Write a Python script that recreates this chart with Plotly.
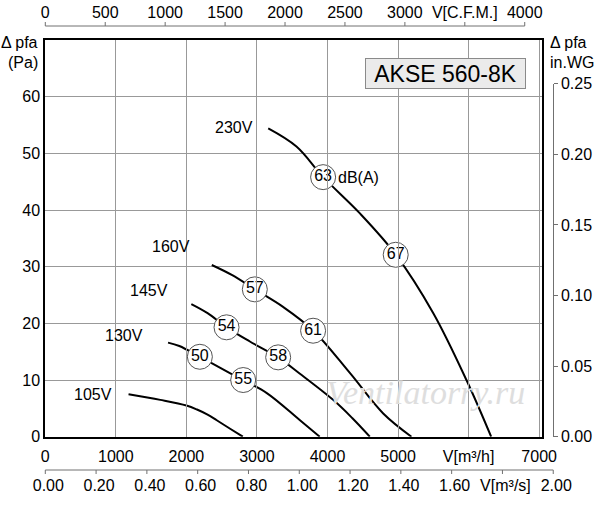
import plotly.graph_objects as go

# fan curves AKSE 560-8K: V in m3/h, dp in Pa
v_230 = [3160, 3560, 3940, 4460, 4970, 5500, 5970, 6320]
p_230 = [54.4, 51.2, 45.8, 39.4, 32.1, 21.8, 10.0, 0.0]
v_160 = [2360, 2650, 2970, 3370, 3800, 4320, 4790, 5190]
p_160 = [30.3, 28.5, 26.0, 22.9, 18.7, 11.2, 4.1, 0.0]
v_145 = [2070, 2300, 2570, 2900, 3300, 3600, 4080, 4350, 4600]
p_145 = [23.4, 21.8, 19.3, 16.8, 14.0, 11.2, 6.5, 3.3, 0.0]
v_130 = [1740, 1900, 2190, 2500, 2800, 3140, 3610, 3890]
p_130 = [16.6, 16.0, 14.1, 12.0, 10.0, 7.7, 2.9, 0.0]
v_105 = [1180, 1630, 2000, 2150, 2300, 2430, 2620, 2800]
p_105 = [7.5, 6.5, 5.5, 4.8, 3.9, 2.9, 1.4, 0.0]

curves = [(v_230, p_230), (v_160, p_160), (v_145, p_145), (v_130, p_130), (v_105, p_105)]

# voltage labels
volt_text = ["230V", "160V", "145V", "130V", "105V"]
volt_x = [2673, 1781, 1469, 1114, 671]
volt_y = [54.5, 33.5, 25.8, 17.8, 7.4]

# noise levels dB(A) on the curves
db_text = ["63", "67", "57", "61", "54", "58", "50", "55"]
db_x = [3938, 4967, 2970, 3796, 2569, 3301, 2191, 2805]
db_y = [45.8, 32.1, 26.0, 18.7, 19.3, 14.0, 14.1, 10.0]

# axis ticks
mh_ticks = [0, 1000, 2000, 3000, 4000, 5000, 6000, 7000]
mh_text = ["0", "1000", "2000", "3000", "4000", "5000", "V[m³/h]", "7000"]
cfm_ticks = [0, 500, 1000, 1500, 2000, 2500, 3000, 3500, 4000]
cfm_text = ["0", "500", "1000", "1500", "2000", "2500", "3000", "V[C.F.M.]", "4000"]
ms_ticks = [0, 0.2, 0.4, 0.6, 0.8, 1.0, 1.2, 1.4, 1.6, 1.8, 2.0]
ms_text = ["0.00", "0.20", "0.40", "0.60", "0.80", "1.00", "1.20", "1.40", "1.60", "V[m³/s]", "2.00"]
pa_ticks = [0, 10, 20, 30, 40, 50, 60]
wg_ticks = [0, 0.05, 0.10, 0.15, 0.20, 0.25]

X_MAX = 7045
Y_MAX = 70
CFM = 1.699     # m3/h per cfm
MS = 3600       # m3/h per m3/s
WG = 249.09     # Pa per in.WG
CFM_RANGE = [-10, 4010]
MS_RANGE = [-0.005, 2.005]

W, H = 600, 505
xd = [45.3 / W, 542.3 / W]
yd = [(H - 436.7) / H, (H - 40) / H]
top_pos = 1 - 26 / H       # C.F.M. axis line
bot_pos = 1 - 470 / H      # m3/s axis line
TICK = 4 / H

def xfrac(v):
    return xd[0] + v / X_MAX * (xd[1] - xd[0])

def yfrac(p):
    return yd[0] + p / Y_MAX * (yd[1] - yd[0])

font = dict(family="Liberation Sans, Arial, sans-serif", size=16, color="black")
axis_grey = "#707070"

fig = go.Figure()

for v, p in curves:
    fig.add_trace(go.Scatter(
        x=v, y=p, mode="lines", line=dict(color="black", width=2, shape="spline"),
        showlegend=False, hoverinfo="skip"))

fig.add_trace(go.Scatter(
    x=db_x, y=db_y, mode="markers+text", text=db_text, textposition="middle center",
    textfont=font,
    marker=dict(size=25, color="white", opacity=1, line=dict(color="#555", width=1)),
    showlegend=False, hoverinfo="skip"))

# placeholder traces so the extra axes get their own subplots
for xa, ya in [("x2", "y4"), ("x3", "y3"), ("x", "y2")]:
    fig.add_trace(go.Scatter(x=[0], y=[0], xaxis=xa, yaxis=ya, mode="markers",
                             marker=dict(size=1, opacity=0), showlegend=False,
                             hoverinfo="skip"))

# axis line + tick marks of the C.F.M. (ticks up) and m3/s (ticks down) scales
def scale_path(ticks, factor, y, dy):
    xs = [xfrac(t * factor) for t in ticks]
    path = f"M{xs[0]},{y} L{xs[-1]},{y}"
    for x in xs:
        path += f" M{x},{y} L{x},{y + dy}"
    return path

fig.add_shape(type="path", xref="paper", yref="paper",
              path=scale_path(cfm_ticks, CFM, top_pos, TICK),
              line=dict(color=axis_grey, width=1))
fig.add_shape(type="path", xref="paper", yref="paper",
              path=scale_path(ms_ticks, MS, bot_pos, -TICK),
              line=dict(color=axis_grey, width=1))

for t, x, y in zip(volt_text, volt_x, volt_y):
    fig.add_annotation(x=x, y=y, text=t, showarrow=False, font=font)

fig.add_annotation(x=db_x[0], y=db_y[0], text="dB(A)", showarrow=False, font=font,
                   xanchor="left", xshift=13)

def paper_text(x, y, text, xanchor="center", **kw):
    fig.add_annotation(xref="paper", yref="paper", x=x / W, y=1 - y / H, text=text,
                       xanchor=xanchor, yanchor="middle", showarrow=False, **kw)

paper_text((365 + 526) / 2, (59.3 + 88.3) / 2, "AKSE 560-8K",
           font=dict(family="Liberation Sans, Arial, sans-serif", size=23, color="black"),
           bgcolor="#ebebeb", bordercolor="#8a8a8a", borderwidth=1, borderpad=1,
           width=157, height=27)

paper_text((317 + 533) / 2, 392, "Ventilatorry.ru",
           font=dict(family="Liberation Serif, serif", size=34, color="#dedede", style="italic"))

# left/right axis titles
paper_text(40, 43, "Δ pfa", xanchor="right", font=font)
paper_text(40, 62, "(Pa)", xanchor="right", font=font)
paper_text(548, 43, "Δ pfa", xanchor="left", font=font)
paper_text(548, 62, "in.WG", xanchor="left", font=font)

hidden = dict(showgrid=False, zeroline=False, showline=False, showticklabels=False,
              ticks="", range=[-1, 1], fixedrange=True)

fig.update_layout(
    width=W, height=H,
    margin=dict(l=0, r=0, t=0, b=0),
    paper_bgcolor="white", plot_bgcolor="rgba(0,0,0,0)",
    font=font,
    xaxis=dict(domain=xd, range=[0, X_MAX], tickvals=mh_ticks, ticktext=mh_text,
               showgrid=True, gridcolor="#999", gridwidth=1, zeroline=False,
               showline=True, mirror=True, linecolor="black", linewidth=2,
               ticks="", ticklabelstandoff=4, tickfont=font, automargin=False),
    yaxis=dict(domain=yd, range=[0, Y_MAX], tickvals=pa_ticks,
               showgrid=True, gridcolor="#999", gridwidth=1, zeroline=False,
               showline=True, mirror=True, linecolor="black", linewidth=2,
               ticks="", tickfont=font, automargin=False),
    # thin helper strips that carry the top and bottom tick labels
    yaxis3=dict(domain=[bot_pos - TICK, bot_pos], anchor="x3", **hidden),
    yaxis4=dict(domain=[top_pos, top_pos + TICK], anchor="x2", **hidden),
    xaxis2=dict(domain=[xfrac(CFM_RANGE[0] * CFM), xfrac(CFM_RANGE[1] * CFM)], range=CFM_RANGE,
                anchor="y4", side="top", tickvals=cfm_ticks, ticktext=cfm_text,
                showgrid=False, zeroline=False, showline=False, ticks="",
                tickfont=font, automargin=False),
    xaxis3=dict(domain=[xfrac(MS_RANGE[0] * MS), xfrac(MS_RANGE[1] * MS)], range=MS_RANGE,
                anchor="y3", side="bottom", tickvals=ms_ticks, ticktext=ms_text,
                showgrid=False, zeroline=False, showline=False, ticks="",
                tickfont=font, ticklabelshift=3, automargin=False),
    yaxis2=dict(domain=[yd[0], yfrac(0.25 * WG)], range=[0, 0.25], anchor="free",
                position=552.7 / W, side="right", tickvals=wg_ticks, tickformat=".2f",
                showgrid=False, zeroline=False, showline=True, linecolor=axis_grey, linewidth=1,
                ticks="outside", ticklen=4, tickcolor=axis_grey, tickfont=font, automargin=False),
)

fig.write_html("out.html", config={"displayModeBar": False},
               post_script="document.body.style.margin='0';document.body.style.overflow='hidden';")
